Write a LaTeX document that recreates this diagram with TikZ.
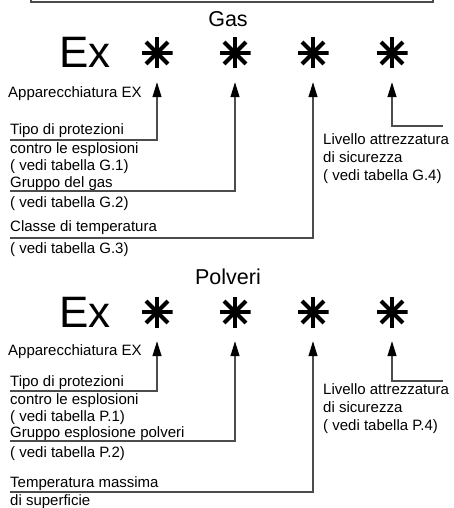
\documentclass[tikz,border=0pt]{standalone}
\usepackage{fontspec}
\setmainfont{Liberation Sans}
\usetikzlibrary{arrows.meta}
\newcommand{\etichetta}{\fontsize{15}{18}\selectfont}

\begin{document}
\begin{tikzpicture}[x=1pt,y=-1pt,
    testo/.style={anchor=base west,inner sep=0pt,font=\etichetta},
    titolo/.style={inner sep=0pt,font=\fontsize{21.5}{25}\selectfont},
    marchio/.style={anchor=base west,inner sep=0pt,font=\fontsize{44}{50}\selectfont},
    asterisco/.style={minimum size=31pt,inner sep=0pt,
      path picture={\foreach \a in {0,45,90,135}
        \draw[line width=4pt] (path picture bounding box.center) ++(\a:15.5pt) -- ++(\a+180:31pt);}},
    linea/.style={draw=black!70,line width=1.1pt},
    freccia/.style={linea,shorten >=13.5pt,-{Triangle[length=15pt,width=9pt,color=black]}}]
\useasboundingbox (0,0) rectangle (454,508);
\draw[linea,line width=1.4pt] (31,-5) |- (433,2) -- (433,-5);

% Gas
\node[titolo] (gas) at (228,19) {Gas};
\node[marchio] (gex) at (59,68) {Ex};
\foreach \n/\x in {1/157,2/235,3/313,4/392}
  \node[asterisco] (g\n) at (\x,53) {};
\node[testo] (gapp) at (8,98) {Apparecchiatura EX};
\node[testo] (gtipo) at (10,135) {Tipo di protezioni};
\node[testo] (gcontro) at (10,153) {contro le esplosioni};
\node[testo] (gtab1) at (10,170) {( vedi tabella G.1)};
\node[testo] (ggruppo) at (10,187) {Gruppo del gas};
\node[testo] (gtab2) at (10,207) {( vedi tabella G.2)};
\node[testo] (gclasse) at (10,231) {Classe di temperatura};
\node[testo] (gtab3) at (10,253) {( vedi tabella G.3)};
\node[testo] (gliv) at (323,144) {Livello attrezzatura};
\node[testo] (gsic) at (323,162) {di sicurezza};
\node[testo] (gtab4) at (323,180) {( vedi tabella G.4)};
\coordinate (gu1) at (10,140);
\coordinate (gu2) at (10,191);
\coordinate (gu3) at (10,238);
\coordinate (gu4) at (443,126);
\draw[freccia] (gu1) -| (g1);
\draw[freccia] (gu2) -| (g2);
\draw[freccia] (gu3) -| (g3);
\draw[freccia] (gu4) -| (g4);

% Polveri
\node[titolo] (polveri) at (228,277) {Polveri};
\node[marchio] (pex) at (59,327) {Ex};
\foreach \n/\x in {1/157,2/235,3/313,4/392}
  \node[asterisco] (p\n) at (\x,312) {};
\node[testo] (papp) at (8,355) {Apparecchiatura EX};
\node[testo] (ptipo) at (10,386) {Tipo di protezioni};
\node[testo] (pcontro) at (10,404) {contro le esplosioni};
\node[testo] (ptab1) at (10,421) {( vedi tabella P.1)};
\node[testo] (pgruppo) at (10,437) {Gruppo esplosione polveri};
\node[testo] (ptab2) at (10,457) {( vedi tabella P.2)};
\node[testo] (ptemp) at (10,487) {Temperatura massima};
\node[testo] (psup) at (10,505) {di superficie};
\node[testo] (pliv) at (323,394) {Livello attrezzatura};
\node[testo] (psic) at (323,412) {di sicurezza};
\node[testo] (ptab4) at (323,430) {( vedi tabella P.4)};
\coordinate (pu1) at (10,391);
\coordinate (pu2) at (10,441);
\coordinate (pu3) at (10,492);
\coordinate (pu4) at (443,381);
\draw[freccia] (pu1) -| (p1);
\draw[freccia] (pu2) -| (p2);
\draw[freccia] (pu3) -| (p3);
\draw[freccia] (pu4) -| (p4);
\end{tikzpicture}
\end{document}
